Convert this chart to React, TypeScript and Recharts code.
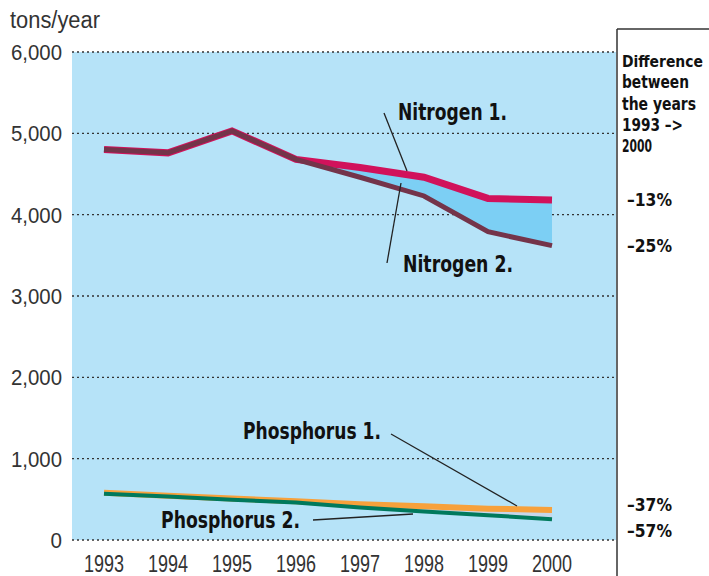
import React from "react";
import { ComposedChart, Line, Area, XAxis, YAxis, CartesianGrid } from "recharts";

const years = [1993, 1994, 1995, 1996, 1997, 1998, 1999, 2000];
const nitrogen1 = [4800, 4760, 5030, 4680, 4580, 4460, 4200, 4180];
const nitrogen2 = [4800, 4760, 5030, 4680, 4460, 4230, 3790, 3620];
const phosphorus1 = [580, 545, 510, 475, 440, 415, 385, 370];
const phosphorus2 = [570, 535, 495, 460, 400, 350, 305, 255];
const yTicks = [0, 1000, 2000, 3000, 4000, 5000, 6000];
const diffLines = ["Difference", "between", "the years", "1993 \u2013>", "2000"];
const diffValues = ["\u201313%", "\u201325%", "\u201337%", "\u201357%"];

const data = years.map((y, i) => ({
  year: y,
  n1: nitrogen1[i],
  n2: nitrogen2[i],
  p1: phosphorus1[i],
  p2: phosphorus2[i],
  nRange: [nitrogen2[i], nitrogen1[i]],
  pRange: [phosphorus2[i], phosphorus1[i]],
}));

const NARROW = "'Liberation Sans Narrow', 'DejaVu Sans Condensed', sans-serif";
const REG = "'Liberation Sans', Arial, sans-serif";

const YTick = (props: any) => {
  const { x, y, payload } = props;
  const label = Number(payload.value).toLocaleString("en-US");
  let w = 0;
  for (const c of label) w += c === "," ? 5 : 11.5;
  return (
    <text x={x} y={y + 8} textAnchor="end" fontFamily={REG} fontSize={22} fill="#333"
      textLength={w} lengthAdjust="spacingAndGlyphs">
      {label}
    </text>
  );
};

const XTick = (props: any) => {
  const { x, payload } = props;
  return (
    <text x={x} y={572} textAnchor="middle" fontFamily={REG} fontSize={23} fill="#333"
      textLength={40} lengthAdjust="spacingAndGlyphs">
      {String(payload.value)}
    </text>
  );
};

export default function App() {
  const lblStyle = { fontFamily: NARROW, fontWeight: 700 as const, fill: "#111" };
  return (
    <div style={{ position: "absolute", left: 0, top: 0, width: 709, height: 576, background: "#fff" }}>
      <ComposedChart
        width={709}
        height={576}
        data={data}
        margin={{ top: 52, right: 93, bottom: 0, left: 0 }}
      >
        <CartesianGrid
          vertical={false}
          fill="#b6e3f8"
          fillOpacity={1}
          stroke="#333"
          strokeDasharray="2 3"
          strokeWidth={1.3}
        />
        <XAxis
          type="number"
          dataKey="year"
          domain={[1992.5, 2000.5]}
          ticks={years}
          axisLine={false}
          tickLine={false}
          tickSize={0}
          tickMargin={15}
          height={36}
          tick={<XTick />}
          allowDecimals={false}
          interval={0}
        />
        <YAxis
          type="number"
          domain={[0, 6000]}
          ticks={yTicks}
          axisLine={false}
          tickLine={false}
          tickSize={0}
          tickMargin={10}
          width={72}
          tick={<YTick />}
          interval={0}
        />
        <Area dataKey="nRange" type="linear" stroke="none" fill="#7ccff4" fillOpacity={1} isAnimationActive={false} />
        <Area dataKey="pRange" type="linear" stroke="none" fill="#c6d6ea" fillOpacity={1} isAnimationActive={false} />
        <Line dataKey="n1" type="linear" stroke="#d1125b" strokeWidth={7} dot={false} activeDot={false} isAnimationActive={false} />
        <Line dataKey="n2" type="linear" stroke="#74344a" strokeWidth={5} dot={false} activeDot={false} isAnimationActive={false} />
        <Line dataKey="p1" type="linear" stroke="#f7a13c" strokeWidth={6} dot={false} activeDot={false} isAnimationActive={false} />
        <Line dataKey="p2" type="linear" stroke="#00795c" strokeWidth={4} dot={false} activeDot={false} isAnimationActive={false} />
      </ComposedChart>
      <svg width={709} height={576} style={{ position: "absolute", left: 0, top: 0, pointerEvents: "none" }}>
        <text x={10} y={28} fontFamily={REG} fontSize={23} fill="#333" textLength={90} lengthAdjust="spacingAndGlyphs">
          tons/year
        </text>
        <line x1={617} y1={29} x2={617} y2={576} stroke="#333" strokeWidth={1.5} />
        <line x1={617} y1={29} x2={709} y2={29} stroke="#333" strokeWidth={1.5} />
        {diffLines.map((t, i) => (
          <text key={t} x={622} y={67 + i * 21.3} fontSize={i === 0 ? 15.5 : 17} {...lblStyle}
            textLength={[81, 67, 74, 61, 30][i]} lengthAdjust="spacingAndGlyphs">
            {t}
          </text>
        ))}
        {diffValues.map((t, i) => (
          <text key={t} x={627} y={[206, 252, 511, 537][i]} fontSize={18} {...lblStyle}
            textLength={45} lengthAdjust="spacingAndGlyphs">
            {t}
          </text>
        ))}
        <text x={398} y={120} fontSize={23} {...lblStyle} textLength={109} lengthAdjust="spacingAndGlyphs">Nitrogen 1.</text>
        <text x={403} y={272} fontSize={23} {...lblStyle} textLength={110} lengthAdjust="spacingAndGlyphs">Nitrogen 2.</text>
        <text x={243} y={439} fontSize={23} {...lblStyle} textLength={138} lengthAdjust="spacingAndGlyphs">Phosphorus 1.</text>
        <text x={161} y={528} fontSize={23} {...lblStyle} textLength={139} lengthAdjust="spacingAndGlyphs">Phosphorus 2.</text>
        <line x1={384} y1={113} x2={407} y2={171} stroke="#222" strokeWidth={1.3} />
        <line x1={387} y1={263} x2={401} y2={183} stroke="#222" strokeWidth={1.3} />
        <line x1={391} y1={434} x2={517} y2={506} stroke="#222" strokeWidth={1.3} />
        <line x1={313} y1={520} x2={413} y2={514} stroke="#222" strokeWidth={1.3} />
      </svg>
    </div>
  );
}
